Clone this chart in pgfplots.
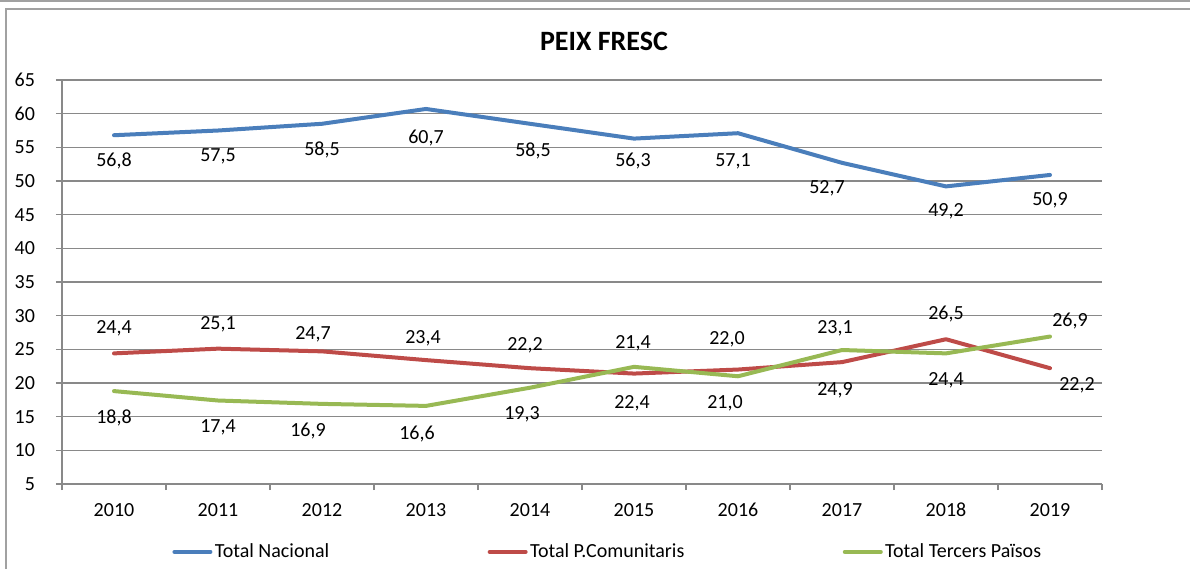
\documentclass[border=0pt]{standalone}
\usepackage{fontspec}
\setmainfont{Carlito}
\usepackage{pgfplots}
\usepackage{pgfplotstable}
\pgfplotsset{compat=1.18}

\definecolor{nacblue}{HTML}{4A7EBB}
\definecolor{comred}{HTML}{BE4B48}
\definecolor{tergreen}{HTML}{98B954}
\definecolor{gridgray}{HTML}{898989}

% x y dx dy  (label offsets in px of the reference)
\pgfplotstableread{
x y dx dy
0 56.8 0 26
1 57.5 0 26
2 58.5 0 26
3 60.7 0 29
4 58.5 3 27
5 56.3 -1 22
6 57.1 -5 28
7 52.7 -15 25
8 49.2 0 25
9 50.9 0 25
}\nacional
\pgfplotstableread{
x y dx dy
0 24.4 0 -25
1 25.1 0 -24
2 24.7 -9 -17
3 23.4 -3 -22
4 22.2 -5 -23
5 21.4 -1 -30
6 22.0 -11 -30
7 23.1 -7 -34
8 26.5 0 -25
9 22.2 27 17
}\comunitaris
\pgfplotstableread{
x y dx dy
0 18.8 0 27
1 17.4 0 27
2 16.9 -14 27
3 16.6 -9 28
4 19.3 -8 27
5 22.4 -2 36
6 21.0 -13 27
7 24.9 -7 40
8 24.4 0 27
9 26.9 20 -16
}\tercers

\begin{document}
\begin{tikzpicture}
\useasboundingbox (0,0) rectangle (595pt,284.5pt);
\draw[gridgray!80, line width=0.8pt] (0,284pt) -- (595pt,284pt);
\draw[gridgray!80, line width=0.8pt] (3pt,0) -- (3pt,280pt) -- (595pt,280pt);
\node[font=\fontsize{14}{16}\selectfont\bfseries] at (302pt,264pt) {PEIX FRESC};
\begin{axis}[
    at={(31pt,42.5pt)}, anchor=south west,
    scale only axis, width=520pt, height=202pt,
    xmin=-0.5, xmax=9.5, ymin=5, ymax=65,
    axis x line*=bottom, axis y line*=left,
    axis line style={draw=gridgray, line width=0.8pt, -},
    xtick={0,...,9},
    xticklabels={2010,2011,2012,2013,2014,2015,2016,2017,2018,2019},
    minor xtick={-0.5,0.5,...,9.5},
    ytick={5,10,...,65},
    tick align=outside,
    major tick length=3pt, minor tick length=3pt,
    major x tick style={draw=none},
    minor x tick style={draw=gridgray, line width=0.8pt},
    major y tick style={draw=gridgray, line width=0.8pt},
    ymajorgrids=true,
    grid style={draw=gridgray, line width=0.8pt},
    tick label style={font=\fontsize{10}{12}\selectfont},
    /pgf/number format/assume math mode=true,
    yticklabel style={xshift=-7pt},
    xticklabel style={yshift=-3pt},
    legend style={at={(0.1058,-0.168)}, anchor=west, draw=none,
        font=\fontsize{10}{12}\selectfont,
        nodes={inner sep=1.2pt},
        /tikz/every even column/.append style={column sep=78pt},
        inner sep=0pt},
    legend cell align=left,
    legend columns=3,
    legend image code/.code={\draw[#1] (1pt,0pt) -- (19pt,0pt);},
    every axis plot/.append style={line width=2pt, line join=round, line cap=round},
    clip=false,
]
\addplot[nacblue] table[x=x,y=y] {\nacional};
\addlegendentry{Total Nacional}
\addplot[comred] table[x=x,y=y] {\comunitaris};
\addlegendentry{Total P.Comunitaris}
\addplot[tergreen] table[x=x,y=y] {\tercers};
\addlegendentry{Total Tercers Països}

\pgfplotsset{labelplot/.style={draw=none, forget plot, mark=none,
    nodes near coords,
    visualization depends on={\thisrow{dx} \as \ldx},
    visualization depends on={\thisrow{dy} \as \ldy},
    every node near coord/.append style={anchor=center, inner sep=0pt,
        xshift={0.5pt*(\ldx)}, yshift={-0.5pt*(\ldy)},
        font=\fontsize{10}{12}\selectfont, text=black,
        /pgf/number format/.cd, fixed, fixed zerofill, precision=1,
        use comma, assume math mode=true}}}
\addplot[labelplot] table[x=x,y=y] {\nacional};
\addplot[labelplot] table[x=x,y=y] {\comunitaris};
\addplot[labelplot] table[x=x,y=y] {\tercers};
\end{axis}
\end{tikzpicture}
\end{document}
